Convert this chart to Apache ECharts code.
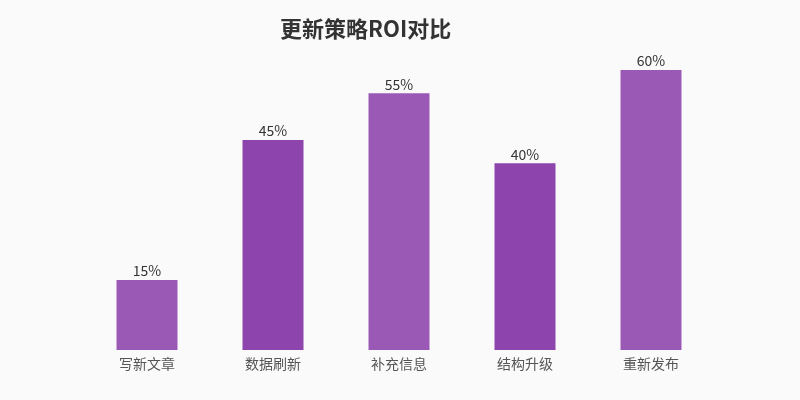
<!DOCTYPE html>
<html><head><meta charset="utf-8">
<script src="https://cdn.jsdelivr.net/npm/echarts@6/dist/echarts.min.js"></script>
<style>html,body{margin:0;padding:0;background:#fafafa;}#c{width:800px;height:400px;}</style>
</head><body><div id="c"></div>
<script>
const categories = ['写新文章','数据刷新','补充信息','结构升级','重新发布'];
const roiValues = [15, 45, 55, 40, 60];
const barColors = ['#9b59b6','#8e44ad'];
const chart = echarts.init(document.getElementById('c'));
chart.setOption({
  backgroundColor: '#fafafa',
  animation: false,
  title: {
    text: '更新策略ROI对比',
    left: 275, top: 13,
    textStyle: { fontFamily: 'Noto Sans CJK SC', fontSize: 22, fontWeight: 'bold', color: '#333' }
  },
  grid: { left: 84, right: 86, top: 70, bottom: 50 },
  xAxis: {
    type: 'category', data: categories,
    axisLine: { show: false }, axisTick: { show: false },
    axisLabel: { fontFamily: 'Noto Sans CJK SC', fontSize: 14, color: '#555', margin: 7 }
  },
  yAxis: {
    type: 'value', min: 0, max: 60, show: false,
    splitLine: { show: false }
  },
  series: [{
    type: 'bar', barWidth: 61,
    data: roiValues.map((v, i) => ({ value: v, itemStyle: { color: barColors[i % 2] } })),
    label: { show: true, position: 'top', distance: 2, formatter: '{c}%', fontFamily: 'Noto Sans CJK SC', fontSize: 14, color: '#333' }
  }]
});
</script></body></html>
